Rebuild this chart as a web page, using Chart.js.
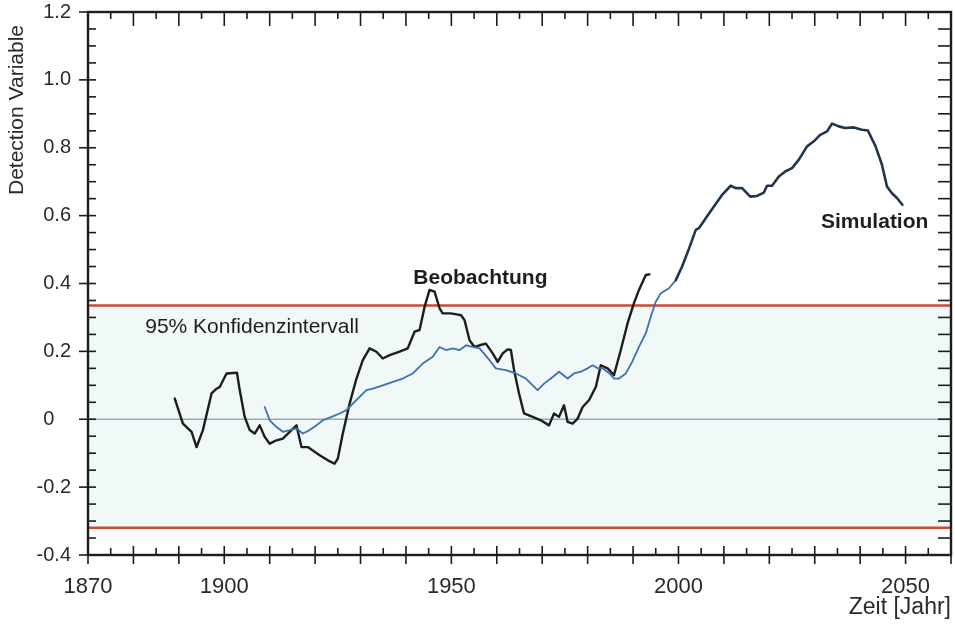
<!DOCTYPE html>
<html>
<head>
<meta charset="utf-8">
<script src="https://cdn.jsdelivr.net/npm/chart.js@4.4.1/dist/chart.umd.min.js"></script>
<style>
  html, body { margin: 0; padding: 0; background: #ffffff; }
  canvas { display: block; }
</style>
</head>
<body>
<canvas id="chart" width="955" height="624"></canvas>
<script>
// Observed detection variable (Beobachtung), years and values
const obsYears = [1889.1, 1890.9, 1892.8, 1893.9, 1895.3, 1897.2, 1898.3, 1899.0, 1900.5, 1902.8,
  1903.4, 1904.5, 1905.6, 1906.7, 1907.8, 1908.9, 1910.0, 1911.5, 1912.9, 1914.4,
  1915.9, 1917.0, 1918.4, 1919.5, 1921.0, 1922.8, 1924.3, 1925.0, 1926.1, 1927.6,
  1929.0, 1930.5, 1932.0, 1933.5, 1934.9, 1936.4, 1938.6, 1940.4, 1941.9, 1943.0,
  1944.1, 1945.2, 1946.3, 1947.4, 1948.1, 1949.9, 1952.1, 1952.9, 1954.0, 1955.1,
  1956.2, 1957.6, 1959.1, 1960.2, 1961.3, 1962.4, 1963.1, 1963.8, 1964.9, 1966.0,
  1967.9, 1969.7, 1971.5, 1972.6, 1973.7, 1974.8, 1975.6, 1976.7, 1977.8, 1978.9,
  1980.3, 1981.8, 1982.9, 1984.4, 1985.8, 1987.3, 1988.8, 1990.2, 1991.3, 1992.8, 1993.6];
const obsValues = [0.061, -0.013, -0.037, -0.082, -0.032, 0.076, 0.090, 0.095, 0.135, 0.137,
  0.086, 0.007, -0.032, -0.042, -0.018, -0.052, -0.072, -0.062, -0.057, -0.037,
  -0.018, -0.082, -0.082, -0.092, -0.106, -0.121, -0.131, -0.116, -0.042, 0.046,
  0.115, 0.174, 0.209, 0.199, 0.179, 0.189, 0.199, 0.209, 0.258, 0.263,
  0.331, 0.381, 0.376, 0.327, 0.312, 0.312, 0.307, 0.292, 0.233, 0.213,
  0.218, 0.223, 0.194, 0.169, 0.194, 0.206, 0.204, 0.145, 0.076, 0.017,
  0.007, -0.003, -0.018, 0.017, 0.007, 0.041, -0.008, -0.013, 0.002, 0.036,
  0.056, 0.095, 0.159, 0.150, 0.130, 0.204, 0.283, 0.342, 0.381, 0.425, 0.427];

// Simulated detection variable (Simulation), years and values
const simYears = [1908.9, 1910.0, 1911.5, 1912.9, 1914.4, 1915.9, 1917.3, 1918.8, 1920.3, 1921.7,
  1923.6, 1925.4, 1926.9, 1928.3, 1929.8, 1931.3, 1932.7, 1934.9, 1937.1, 1939.3,
  1941.5, 1943.7, 1945.9, 1947.4, 1948.8, 1950.3, 1951.8, 1953.3, 1954.7, 1956.2,
  1958.4, 1959.8, 1962.0, 1964.2, 1966.4, 1967.9, 1969.0, 1970.4, 1971.9, 1973.7,
  1975.6, 1977.0, 1978.5, 1980.0, 1981.1, 1982.2, 1983.3, 1984.8, 1985.8, 1986.9,
  1988.4, 1989.8, 1991.3, 1992.8, 1993.9, 1995.0, 1996.1, 1997.9, 1999.4, 2000.8,
  2002.3, 2003.8, 2004.5, 2006.0, 2007.8, 2009.6, 2011.5, 2012.6, 2014.0, 2015.8,
  2017.3, 2018.8, 2019.5, 2020.6, 2022.1, 2023.5, 2025.0, 2026.5, 2028.3, 2029.8,
  2031.2, 2032.7, 2033.8, 2035.3, 2036.7, 2038.6, 2040.4, 2041.7, 2043.4, 2044.8,
  2045.9, 2047.0, 2048.1, 2049.3];
const simValues = [0.036, -0.003, -0.023, -0.037, -0.032, -0.027, -0.042, -0.032, -0.018, -0.003,
  0.007, 0.017, 0.027, 0.046, 0.066, 0.086, 0.090, 0.100, 0.110, 0.120,
  0.135, 0.164, 0.184, 0.213, 0.204, 0.209, 0.204, 0.218, 0.213, 0.209,
  0.174, 0.150, 0.145, 0.135, 0.120, 0.100, 0.086, 0.105, 0.120, 0.140,
  0.120, 0.135, 0.140, 0.150, 0.159, 0.150, 0.150, 0.135, 0.120, 0.120,
  0.135, 0.169, 0.213, 0.253, 0.302, 0.346, 0.371, 0.386, 0.410, 0.450,
  0.502, 0.558, 0.563, 0.592, 0.627, 0.661, 0.688, 0.681, 0.681, 0.656,
  0.658, 0.668, 0.688, 0.688, 0.715, 0.730, 0.740, 0.765, 0.804, 0.819,
  0.838, 0.848, 0.871, 0.863, 0.858, 0.860, 0.853, 0.851, 0.804, 0.750,
  0.686, 0.666, 0.652, 0.632];

// 95 % confidence interval bounds
const confidenceBounds = [-0.32, 0.335];

// Axis ranges and labelled ticks
const yearRange = [1870, 2060];
const valueRange = [-0.4, 1.2];
const yearTickLabels = [1870, 1900, 1950, 2000, 2050];
const valueTickLabels = [-0.4, -0.2, 0, 0.2, 0.4, 0.6, 0.8, 1.0, 1.2];

const toPoints = (xs, ys) => xs.map((x, i) => ({ x, y: ys[i] }));
const flatLine = v => yearRange.map(x => ({ x, y: v }));

const FONT = "'Liberation Sans', Arial, sans-serif";
const RED = '#cc4a30';
const TEXT = '#2a2a2a';

// Frame of the plot with tick marks on all four sides
const axisFrame = {
  id: 'axisFrame',
  afterDatasetsDraw(chart) {
    const { ctx, chartArea: a, scales: { x, y } } = chart;
    const seg = (x1, y1, x2, y2) => { ctx.beginPath(); ctx.moveTo(x1, y1); ctx.lineTo(x2, y2); ctx.stroke(); };
    ctx.save();
    ctx.strokeStyle = '#1c1c1c';
    ctx.lineWidth = 1.6;
    for (let yr = yearRange[0]; yr <= yearRange[1]; yr += 5) {
      const px = x.getPixelForValue(yr);
      const major = yr % 10 === 0;
      seg(px, a.bottom - (major ? 9 : 7), px, a.bottom + (major ? 9 : 0));
      seg(px, a.top, px, a.top + (major ? 14 : 7));
    }
    for (let i = 0; i <= 32; i++) {
      const v = valueRange[0] + i * 0.05;
      const py = y.getPixelForValue(v);
      const major = i % 4 === 0;
      seg(a.left - (major ? 9 : 0), py, a.left + 8, py);
      seg(a.right - 13, py, a.right, py);
    }
    ctx.lineWidth = 2.4;
    ctx.strokeRect(a.left, a.top, a.right - a.left, a.bottom - a.top);
    ctx.restore();
  }
};

// Text annotations placed at data coordinates
const annotations = [
  { text: 'Beobachtung', year: 1956.4, value: 0.416, bold: true, align: 'center' },
  { text: 'Simulation', year: 2043.2, value: 0.582, bold: true, align: 'center' },
  { text: '95% Konfidenzintervall', year: 1882.6, value: 0.271, bold: false, align: 'left' }
];
const annotationText = {
  id: 'annotationText',
  afterDraw(chart) {
    const { ctx, chartArea: a, scales: { x, y } } = chart;
    ctx.save();
    ctx.fillStyle = '#1e1e1e';
    ctx.textBaseline = 'middle';
    annotations.forEach(n => {
      ctx.font = (n.bold ? 'bold ' : '') + '21px ' + FONT;
      ctx.textAlign = n.align;
      ctx.fillText(n.text, x.getPixelForValue(n.year), y.getPixelForValue(n.value));
    });
    // vertical axis title, upper left
    ctx.fillStyle = TEXT;
    ctx.font = '21px ' + FONT;
    ctx.translate(17, a.top + 98);
    ctx.rotate(-Math.PI / 2);
    ctx.textAlign = 'center';
    ctx.fillText('Detection Variable', 0, 0);
    ctx.restore();
  }
};

new Chart(document.getElementById('chart'), {
  type: 'line',
  data: {
    datasets: [
      { data: flatLine(confidenceBounds[1]), borderColor: RED, borderWidth: 2.5, fill: false, order: 5 },
      { data: flatLine(confidenceBounds[0]), borderColor: RED, borderWidth: 2.5, fill: '-1',
        backgroundColor: '#f0f8f8', order: 4 },
      { data: flatLine(0), borderColor: '#8cb0b2', borderWidth: 1.5, fill: false, order: 3 },
      { label: 'Simulation', data: toPoints(simYears, simValues), borderColor: '#3e6fae', borderWidth: 1.8,
        fill: false, order: 1,
        segment: {
          borderColor: c => c.p0.parsed.x >= 1999 ? '#203550' : '#3e6fae',
          borderWidth: c => c.p0.parsed.x >= 1999 ? 2.6 : 1.8
        } },
      { label: 'Beobachtung', data: toPoints(obsYears, obsValues), borderColor: '#1d1d1d', borderWidth: 2.4,
        fill: false, order: 2 }
    ]
  },
  options: {
    responsive: false,
    animation: false,
    events: [],
    elements: { point: { radius: 0 }, line: { tension: 0, borderJoinStyle: 'round', borderCapStyle: 'round' } },
    layout: { padding: { top: 12, right: 4, left: 0, bottom: 0 } },
    plugins: {
      legend: { display: false },
      tooltip: { enabled: false },
      filler: { drawTime: 'beforeDatasetsDraw' }
    },
    scales: {
      x: {
        type: 'linear',
        min: yearRange[0],
        max: yearRange[1],
        grid: { display: false, drawTicks: false },
        border: { display: false },
        afterBuildTicks: s => { s.ticks = yearTickLabels.map(v => ({ value: v })); },
        afterFit: s => { s.height = 69; s.paddingLeft = 0; s.paddingRight = 0; },
        ticks: {
          autoSkip: false,
          maxRotation: 0,
          padding: 19,
          color: TEXT,
          font: { family: FONT, size: 22 },
          callback: v => String(v)
        },
        title: {
          display: true,
          text: 'Zeit [Jahr]',
          align: 'end',
          color: TEXT,
          font: { family: FONT, size: 23 },
          padding: { top: 0, bottom: 3 }
        }
      },
      y: {
        type: 'linear',
        min: valueRange[0],
        max: valueRange[1],
        grid: { display: false, drawTicks: false },
        border: { display: false },
        afterBuildTicks: s => { s.ticks = valueTickLabels.map(v => ({ value: v })); },
        afterFit: s => { s.width = 88; s.paddingTop = 0; s.paddingBottom = 0; },
        ticks: {
          autoSkip: false,
          padding: 17,
          color: TEXT,
          font: { family: FONT, size: 20 },
          callback: v => Math.abs(v) < 1e-9 ? '0   ' : v.toFixed(1)
        }
      }
    }
  },
  plugins: [axisFrame, annotationText]
});
</script>
</body>
</html>
